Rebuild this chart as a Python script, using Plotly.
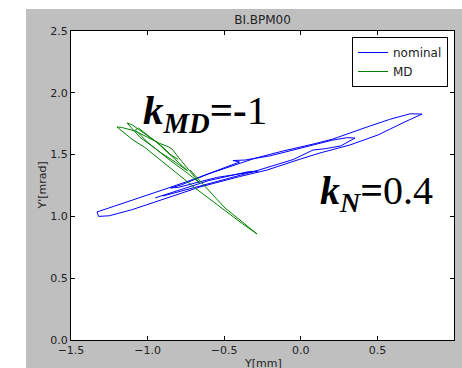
import plotly.graph_objects as go

# ---- data ----
nominal_x = [-0.90, -0.75, -0.55, -0.30, -0.05, 0.08, 0.16, 0.26, 0.354, 0.30, 0.20, 0.12, 0.00, -0.20,
             -0.364, -0.443, -0.40, -0.55, -0.70, -0.90, -1.095, -1.25, -1.33, -1.32, -1.25, -1.10, -0.899,
             -0.658, -0.40, -0.221, 0.00, 0.125, 0.321, 0.504, 0.68, 0.791, 0.713, 0.58, 0.432, 0.30, 0.21,
             0.08, -0.005, -0.116, -0.30, -0.45, -0.60, -0.78, -0.85, -0.80, -0.55, -0.279, -0.35, -0.60,
             -0.85, -0.95]
nominal_y = [1.165, 1.215, 1.285, 1.365, 1.46, 1.537, 1.548, 1.57, 1.634, 1.637, 1.615, 1.59, 1.55, 1.49,
             1.456, 1.452, 1.44, 1.37, 1.30, 1.215, 1.133, 1.065, 1.036, 1.00, 1.005, 1.055, 1.141,
             1.238, 1.322, 1.375, 1.465, 1.513, 1.578, 1.659, 1.765, 1.828, 1.830, 1.785, 1.723, 1.665, 1.626,
             1.585, 1.561, 1.529, 1.47, 1.41, 1.345, 1.255, 1.23, 1.235, 1.315, 1.367, 1.36, 1.29,
             1.19, 1.15]

md_x = [-0.723, -0.62, -0.495, -0.462, -0.38, -0.286, -0.38, -0.482, -0.60, -0.69, -0.82, -0.919, -1.02,
        -1.095, -1.20, -1.17, -1.08, -1.00, -0.92, -0.867, -0.84, -0.80, -0.76, -0.70, -0.66, -0.75, -0.85,
        -0.95, -1.05, -1.134, -1.10, -1.02, -0.95, -0.88, -0.80, -0.74, -0.82, -0.92, -1.00, -1.08, -1.06,
        -0.98, -0.90, -0.85, -0.80]
md_y = [1.375, 1.24, 1.068, 1.036, 0.95, 0.858, 0.94, 1.036, 1.14, 1.23, 1.36, 1.456, 1.56,
        1.618, 1.723, 1.72, 1.69, 1.64, 1.59, 1.565, 1.545, 1.48, 1.42, 1.33, 1.27, 1.36, 1.45,
        1.55, 1.64, 1.756, 1.74, 1.67, 1.61, 1.53, 1.44, 1.37, 1.44, 1.52, 1.60, 1.70, 1.715,
        1.64, 1.56, 1.50, 1.46]

x_ticks = [-1.5, -1.0, -0.5, 0.0, 0.5, 1.0]
y_ticks = [0.0, 0.5, 1.0, 1.5, 2.0, 2.5]

W, H = 462, 368
L, R, T, B = 71, 8, 31, 28
PW, PH = W - L - R, H - T - B


def px(xp):
    return (xp - L) / PW


def py(yp):
    return (H - B - yp) / PH


fig = go.Figure()
fig.add_trace(go.Scatter(x=nominal_x, y=nominal_y, mode="lines", name="nominal",
                         line=dict(color="#0000ff", width=1)))
fig.add_trace(go.Scatter(x=md_x, y=md_y, mode="lines", name="MD",
                         line=dict(color="#008000", width=1)))

axis_common = dict(showgrid=False, zeroline=False, showline=True, linecolor="#000000", linewidth=1,
                   mirror="allticks", ticks="inside", ticklen=4, tickcolor="#000000",
                   tickfont=dict(family="DejaVu Sans", size=11, color="#222222"), tickformat=".1f")

fig.update_layout(
    width=W, height=H,
    margin=dict(l=L, r=R, t=T, b=B),
    paper_bgcolor="#bfbfbf", plot_bgcolor="#ffffff",
    font=dict(family="DejaVu Sans", color="#222222"),
    title=dict(text="BI.BPM00", x=px(262.5), xref="paper", xanchor="center",
               y=1 - 20 / H, yref="container", yanchor="middle",
               font=dict(family="DejaVu Sans", size=12, color="#222222")),
    xaxis=dict(range=[-1.5, 1.0], tickvals=x_ticks, **axis_common),
    yaxis=dict(range=[0, 2.5], tickvals=y_ticks, **axis_common),
    legend=dict(x=px(448), y=py(37), xanchor="right", yanchor="top",
                bgcolor="#ffffff", bordercolor="#000000", borderwidth=1,
                font=dict(family="DejaVu Sans", size=12, color="#222222"),
                itemwidth=30, tracegroupgap=0),
    showlegend=True,
)

# white strips at top and left of the figure
fig.add_shape(type="rect", xref="paper", yref="paper", x0=px(-2), x1=px(W + 2), y0=py(9), y1=py(-2),
              fillcolor="#ffffff", line=dict(width=0), layer="below")
fig.add_shape(type="rect", xref="paper", yref="paper", x0=px(-2), x1=px(26), y0=py(H + 2), y1=py(-2),
              fillcolor="#ffffff", line=dict(width=0), layer="below")

# axis titles
fig.add_annotation(text="Y[mm]", xref="paper", yref="paper", x=px(262.5), y=py(363),
                   xanchor="center", yanchor="middle", showarrow=False,
                   font=dict(family="DejaVu Sans", size=11, color="#222222"))
fig.add_annotation(text="Y'[mrad]", xref="paper", yref="paper", x=px(42), y=py(185.5),
                   xanchor="center", yanchor="middle", showarrow=False, textangle=-90,
                   font=dict(family="DejaVu Sans", size=11, color="#222222"))

# big labels
fig.add_annotation(text="<b><i>k</i></b><sub><b><i>MD</i></b></sub><b>=-</b>1",
                   x=-1.04, y=1.835, xanchor="left", yanchor="middle", showarrow=False,
                   font=dict(family="Liberation Serif", size=41, color="#000000"))
fig.add_annotation(text="<b><i>k</i></b><sub><b><i>N</i></b></sub><b>=</b>0.4",
                   x=0.495, y=1.19, xanchor="center", yanchor="middle", showarrow=False,
                   font=dict(family="Liberation Serif", size=40, color="#000000"))

fig.write_html("out.html")
